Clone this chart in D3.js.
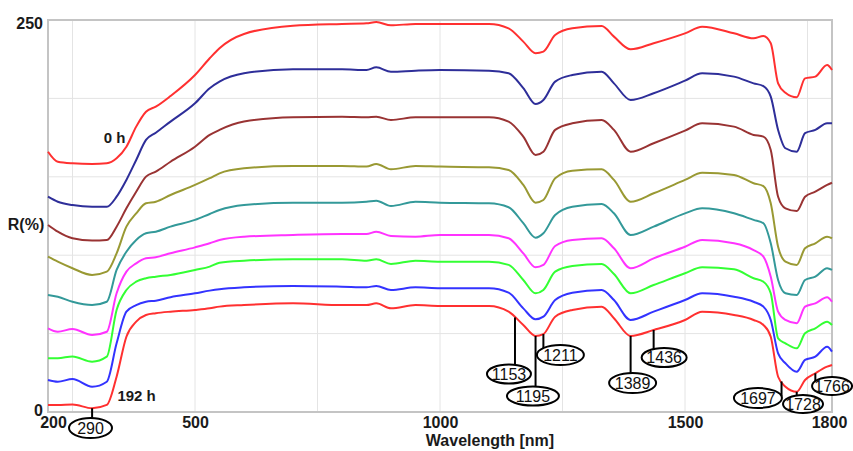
<!DOCTYPE html>
<html>
<head>
<meta charset="utf-8">
<script src="https://cdn.jsdelivr.net/npm/d3@7/dist/d3.min.js"></script>
<style>
  html, body { margin: 0; padding: 0; background: #fff; }
  svg { display: block; font-family: "Liberation Sans", Arial, sans-serif; }
</style>
</head>
<body>
<svg id="chart" width="853" height="451"></svg>
<script>
// Wavelength grid (nm)
const wavelengths = [200,220,250,290,320,340,360,380,400,420,450,500,530,550,600,700,800,850,870,900,950,1000,1100,1140,1170,1195,1211,1235,1270,1330,1355,1389,1436,1500,1535,1600,1640,1660,1675,1690,1705,1728,1745,1766,1790,1800];

// Reflectance R(%) for each exposure time
const r0h   = [166.0,159.6,158.6,158.2,158.6,161.8,169.2,182.0,191.5,194.7,201.5,214.9,225.6,232.0,241.1,246.4,247.5,247.9,248.7,246.6,247.5,247.5,247.5,244.7,236.2,228.8,229.8,240.4,244.7,246.2,239.4,231.3,235.2,241.5,245.7,241.5,238.3,239.8,235.2,209.6,203.6,200.7,212.8,213.9,221.3,218.1];
const r24h  = [137.3,134.1,132.0,130.9,130.9,137.3,148.0,160.7,173.5,178.1,185.2,196.9,206.5,210.7,216.0,218.6,218.6,218.1,219.8,217.0,217.7,218.1,217.7,216.0,206.5,196.4,199.0,210.7,214.9,217.0,209.6,199.0,203.3,211.3,216.0,213.9,209.6,207.9,201.1,179.9,168.2,166.0,177.8,179.9,184.1,184.1];
const r48h  = [119.3,115.0,110.8,109.3,109.7,118.2,129.9,140.5,150.1,153.3,159.6,169.2,176.7,179.9,185.2,188.0,188.3,188.0,188.3,186.2,188.0,188.0,188.0,185.2,175.6,163.9,166.0,179.9,184.1,186.2,179.9,166.0,171.4,179.4,184.1,182.0,176.7,175.6,167.1,137.3,129.9,128.2,137.3,140.5,144.8,146.2];
const r72h  = [99.1,95.9,91.7,87.4,89.5,101.2,118.2,126.7,133.1,134.1,138.4,144.8,149.1,152.2,155.4,156.9,156.9,156.5,158.2,154.8,156.9,156.5,156.1,154.3,144.8,133.5,135.2,149.1,153.9,154.8,148.0,134.1,139.5,148.0,152.6,151.2,145.9,144.1,133.1,105.4,95.9,93.8,104.4,107.6,111.8,110.8];
const r96h  = [74.6,73.5,70.3,68.2,70.3,90.6,102.2,109.7,114.0,115.0,118.2,122.5,126.3,128.8,132.0,133.5,133.5,134.1,134.8,131.4,134.1,133.5,133.1,130.6,120.4,111.2,114.0,125.6,130.9,132.7,126.7,112.9,118.2,126.7,129.9,126.7,122.5,120.4,107.6,84.2,75.7,74.6,84.2,86.3,91.7,90.6];
const r120h = [53.4,51.2,52.9,49.1,51.2,75.7,89.5,94.8,98.0,98.7,101.2,105.0,107.6,109.7,111.8,112.9,113.5,113.5,115.0,112.3,111.8,112.9,112.9,110.8,101.2,92.3,93.8,105.9,109.7,110.8,104.4,91.7,98.0,105.4,109.7,107.6,103.3,99.1,86.3,64.0,58.7,56.6,67.2,69.3,73.2,70.3];
const r144h = [34.3,34.3,35.4,32.1,35.3,65.1,77.8,83.1,85.3,86.3,87.4,90.6,92.7,95.2,96.5,97.4,97.4,96.5,97.4,94.4,96.5,95.9,95.9,93.8,84.2,75.7,77.8,89.5,93.1,94.4,88.0,75.7,81.0,88.5,92.3,91.0,85.3,83.1,75.7,47.0,43.8,40.6,50.2,53.4,57.6,55.5];
const r168h = [20.4,19.3,21.0,16.1,19.3,43.8,64.0,68.2,70.3,71.0,73.2,75.7,77.4,78.3,79.5,80.4,79.9,79.5,80.4,77.8,79.5,78.9,78.9,76.1,66.1,59.1,60.8,71.4,76.1,77.8,71.4,58.7,64.0,71.4,75.7,73.5,70.3,67.2,58.7,37.4,31.1,25.7,33.2,35.3,41.6,38.5];
const r192h = [4.5,4.5,4.8,2.4,4.5,22.5,48.0,57.6,61.9,63.0,64.0,65.1,66.1,67.2,68.2,69.3,68.2,68.2,69.3,66.1,68.2,67.6,67.6,64.0,55.5,48.5,49.7,60.8,65.1,67.2,59.8,48.5,52.3,58.7,64.0,61.9,58.7,55.5,48.0,22.5,16.1,12.9,20.4,24.7,28.9,30.0];

const seriesValues = [r0h, r24h, r48h, r72h, r96h, r120h, r144h, r168h, r192h];
const seriesColors = ["#ff3030","#2e2e99","#993333","#999933","#339999","#ff33ff","#33ff33","#3333ff","#ff3030"];

// Axis ticks
const xTickLabels = [200, 500, 1000, 1500, 1800];
const xGrid = [250, 500, 750, 1000, 1250, 1500, 1750];
const yTickLabels = [0, 250];
const yGrid = [50, 100, 150, 200];

// Absorption band wavelengths marked on the 192 h curve
const bands = [290, 1153, 1195, 1211, 1389, 1436, 1697, 1728, 1766];

// Callout layout: label offset from band position (dx px) and from the axis line (dy px)
const calloutLayout = {
  290:  {dx: -1.6, dy: 16,   rx: 21.5, ry: 10},
  1153: {dx: -6,   dy: -38,  rx: 22,   ry: 9.5},
  1195: {dx: -2.6, dy: -16,  rx: 26,   ry: 9.5},
  1211: {dx: 17,   dy: -57,  rx: 23.5, ry: 10},
  1389: {dx: 2,    dy: -29,  rx: 23.5, ry: 10},
  1436: {dx: 10.5, dy: -54.5,rx: 22.5, ry: 9.5},
  1697: {dx: -23.6,dy: -14,  rx: 24,   ry: 10},
  1728: {dx: 6.3,  dy: -8,   rx: 20,   ry: 9},
  1766: {dx: 16.7, dy: -26,  rx: 20,   ry: 9}
};

const svg = d3.select("#chart");
const plot = {left: 48, right: 832, top: 20, bottom: 412};

const x = d3.scaleLinear().domain([200, 1800]).range([plot.left, plot.right]);
const y = d3.scaleLinear().domain([0, 250]).range([plot.bottom, plot.top]);

// Grid
const grid = svg.append("g").attr("stroke", "#e4e4e4").attr("stroke-width", 1);
grid.selectAll("line.v").data(xGrid).join("line")
  .attr("x1", d => x(d)).attr("x2", d => x(d))
  .attr("y1", plot.top).attr("y2", plot.bottom);
grid.selectAll("line.h").data(yGrid).join("line")
  .attr("x1", plot.left).attr("x2", plot.right)
  .attr("y1", d => y(d)).attr("y2", d => y(d));

// Frame
svg.append("rect")
  .attr("x", plot.left).attr("y", plot.top)
  .attr("width", plot.right - plot.left).attr("height", plot.bottom - plot.top)
  .attr("fill", "none").attr("stroke", "#c4c4c4").attr("stroke-width", 2);

// Spectra
const line = d3.line()
  .x((d, i) => x(wavelengths[i]))
  .y(d => y(d))
  .curve(d3.curveMonotoneX);

svg.append("g").selectAll("path").data(seriesValues).join("path")
  .attr("d", d => line(d))
  .attr("fill", "none")
  .attr("stroke", (d, i) => seriesColors[i])
  .attr("stroke-width", 2)
  .attr("stroke-linejoin", "round");

// Axes
const xAxis = svg.append("g")
  .attr("transform", `translate(0,${plot.bottom})`)
  .call(d3.axisBottom(x).tickValues(xTickLabels).tickFormat(d3.format("d")).tickSize(0).tickPadding(5));
xAxis.select(".domain").remove();
xAxis.selectAll("text")
  .attr("font-size", 16).attr("font-weight", "bold").attr("fill", "#1a1a1a")
  .attr("font-family", "Liberation Sans, Arial, sans-serif")
  .attr("dx", d => d === 200 ? 5 : (d === 1800 ? -3 : 0));

const yAxis = svg.append("g")
  .attr("transform", `translate(${plot.left},0)`)
  .call(d3.axisLeft(y).tickValues(yTickLabels).tickFormat(d3.format("d")).tickSize(0).tickPadding(5));
yAxis.select(".domain").remove();
yAxis.selectAll("text")
  .attr("font-size", 16).attr("font-weight", "bold").attr("fill", "#1a1a1a")
  .attr("font-family", "Liberation Sans, Arial, sans-serif")
  .attr("dy", d => d === 250 ? "0.5em" : "0.2em");

const textStyle = s => s.attr("font-size", 16).attr("font-weight", "bold").attr("fill", "#1a1a1a");

svg.append("text").attr("x", 26).attr("y", 230).attr("text-anchor", "middle")
  .text("R(%)").call(textStyle);
svg.append("text").attr("x", 490).attr("y", 446).attr("text-anchor", "middle")
  .text("Wavelength [nm]").call(textStyle);

function interp(vals, w) {
  const i = Math.max(1, Math.min(wavelengths.length - 1, d3.bisectLeft(wavelengths, w)));
  const w0 = wavelengths[i - 1], w1 = wavelengths[i];
  const t = (w - w0) / (w1 - w0);
  return vals[i - 1] + (vals[i] - vals[i - 1]) * t;
}

// Curve labels beside the top and bottom spectra
const curveLabels = [
  {text: "0 h", at: 330, series: 0, dx: -8, dy: -18},
  {text: "192 h", at: 360, series: 8, dx: -9, dy: 64}
];
svg.append("g").selectAll("text").data(curveLabels).join("text")
  .attr("x", d => x(d.at) + d.dx)
  .attr("y", d => y(interp(seriesValues[d.series], d.at)) + d.dy)
  .text(d => d.text)
  .attr("font-size", 15).attr("font-weight", "bold").attr("fill", "#1a1a1a");

// Band callouts
const callouts = svg.append("g");
bands.forEach(b => {
  const L = calloutLayout[b];
  const bx = x(b);
  const by = y(interp(r192h, b));
  const cx = bx + L.dx, cy = plot.bottom + L.dy;
  const k = Math.abs(L.dx) < L.rx ? Math.sqrt(1 - (L.dx / L.rx) ** 2) : 0;
  const yEnd = cy - L.ry * k;
  callouts.append("line")
    .attr("x1", bx).attr("x2", bx).attr("y1", by).attr("y2", yEnd)
    .attr("stroke", "#000").attr("stroke-width", 2);
  callouts.append("ellipse")
    .attr("cx", cx).attr("cy", cy).attr("rx", L.rx).attr("ry", L.ry)
    .attr("fill", "#fff").attr("stroke", "#000").attr("stroke-width", 2);
  callouts.append("text")
    .attr("x", cx).attr("y", cy).attr("dy", "0.36em")
    .attr("text-anchor", "middle")
    .attr("font-size", 16).attr("fill", "#111")
    .text(b);
});
</script>
</body>
</html>
